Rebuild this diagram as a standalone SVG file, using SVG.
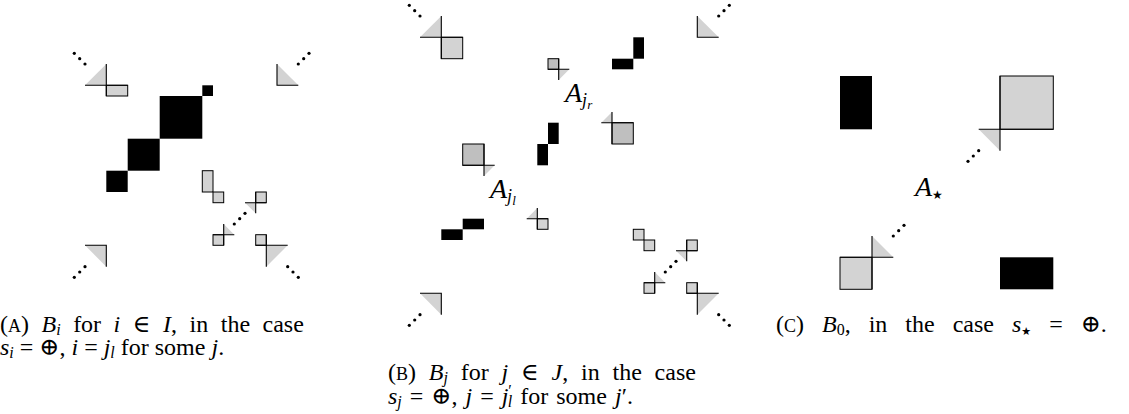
<svg xmlns="http://www.w3.org/2000/svg" width="1129" height="414" viewBox="0 0 1129 414">
<style>
.lg{fill:#d3d3d3;stroke:#000;stroke-width:1}
.dg{fill:#bfbfbf;stroke:#000;stroke-width:1}
.bk{fill:#000;stroke:none}
.tri{fill:#d3d3d3;stroke:none}
.ln{fill:none;stroke:#000;stroke-width:1.1}
.dot{fill:#000}
.cap{font-family:"Liberation Serif","DejaVu Serif",serif;font-size:24px;fill:#000}
.lab{font-family:"Liberation Serif","DejaVu Serif",serif;font-size:28px;fill:#000}
.it{font-style:italic}
.sub{font-style:italic;font-size:16px}
.lsub{font-style:italic;font-size:18px}
.sc{font-size:18px}
</style>
<rect width="1129" height="414" fill="#fff"/>

<g id="panelA">
  <g id="a-tl">
    <polygon class="tri" points="85,85.3 106.3,64 106.3,85.3"/>
    <rect class="lg" x="106.3" y="85.3" width="21.4" height="10.7"/>
    <path class="ln" d="M85,85.3H127.7M106.3,64V96"/>
    <circle class="dot" cx="85" cy="64" r="1.6"/><circle class="dot" cx="79.7" cy="58.7" r="1.6"/><circle class="dot" cx="74.3" cy="53.3" r="1.6"/>
  </g>
  <g id="a-tr">
    <polygon class="tri" points="277,64 277,85.3 298.3,85.3"/>
    <path class="ln" d="M277,64V85.3H298.3"/>
    <circle class="dot" cx="298.3" cy="64" r="1.6"/><circle class="dot" cx="303.7" cy="58.7" r="1.6"/><circle class="dot" cx="309" cy="53.3" r="1.6"/>
  </g>
  <g id="a-black">
    <rect class="bk" x="202.3" y="85.3" width="10.7" height="10.7"/>
    <rect class="bk" x="159.7" y="96" width="42.6" height="42.7"/>
    <rect class="bk" x="127.7" y="138.7" width="32" height="32"/>
    <rect class="bk" x="106.3" y="170.7" width="21.4" height="21.3"/>
  </g>
  <g id="a-gray">
    <rect class="lg" x="202.3" y="170.7" width="10.7" height="21.3"/>
    <rect class="lg" x="213" y="192" width="10.7" height="10.7"/>
  </g>
  <g id="a-cross1">
    <polygon class="tri" points="245,202.7 255.7,202.7 255.7,213.3"/>
    <rect class="lg" x="255.7" y="192" width="10.6" height="10.7"/>
    <path class="ln" d="M245,202.7H266.3M255.7,192V213.3"/>
    <circle class="dot" cx="245" cy="213.3" r="1.6"/><circle class="dot" cx="239.7" cy="218.7" r="1.6"/><circle class="dot" cx="234.3" cy="224" r="1.6"/>
  </g>
  <g id="a-cross2">
    <polygon class="tri" points="223.7,224 223.7,234.7 234.3,234.7"/>
    <rect class="lg" x="213" y="234.7" width="10.7" height="10.6"/>
    <path class="ln" d="M223.7,224V245.3M213,234.7H234.3"/>
  </g>
  <g id="a-br">
    <polygon class="tri" points="266.3,245.3 287.7,245.3 266.3,266.7"/>
    <rect class="lg" x="255.7" y="234.7" width="10.6" height="10.6"/>
    <path class="ln" d="M255.7,245.3H287.7M266.3,234.7V266.7"/>
    <circle class="dot" cx="287.7" cy="266.7" r="1.6"/><circle class="dot" cx="293" cy="272" r="1.6"/><circle class="dot" cx="298.3" cy="277.3" r="1.6"/>
  </g>
  <g id="a-bl">
    <polygon class="tri" points="85,245.3 106.3,245.3 106.3,266.7"/>
    <path class="ln" d="M85,245.3H106.3V266.7"/>
    <circle class="dot" cx="85" cy="266.7" r="1.6"/><circle class="dot" cx="79.7" cy="272" r="1.6"/><circle class="dot" cx="74.3" cy="277.3" r="1.6"/>
  </g>
  <g id="a-caption">
    <text class="cap" x="0" y="332" word-spacing="6.5">(<tspan class="sc">A</tspan>) <tspan class="it">B</tspan><tspan class="sub" dy="3">i</tspan><tspan dy="-3"> for </tspan><tspan class="it">i</tspan> ∈ <tspan class="it">I</tspan>, in the case</text>
    <text class="cap" x="0" y="355"><tspan class="it">s</tspan><tspan class="sub" dy="3">i</tspan><tspan dy="-3"> = ⊕, </tspan><tspan class="it">i</tspan> = <tspan class="it">j</tspan><tspan class="sub" dy="3">l</tspan><tspan dy="-3"> for some </tspan><tspan class="it">j</tspan>.</text>
  </g>
</g>

<g id="panelB">
  <g id="b-tl">
    <polygon class="tri" points="420,37.3 441.3,16 441.3,37.3"/>
    <rect class="lg" x="441.3" y="37.3" width="21.4" height="21.4"/>
    <path class="ln" d="M420,37.3H462.7M441.3,16V58.7"/>
    <circle class="dot" cx="420" cy="16" r="1.6"/><circle class="dot" cx="414.7" cy="10.7" r="1.6"/><circle class="dot" cx="409.3" cy="5.3" r="1.6"/>
  </g>
  <g id="b-tr">
    <polygon class="tri" points="697.3,16 697.3,37.3 718.7,37.3"/>
    <path class="ln" d="M697.3,16V37.3H718.7"/>
    <circle class="dot" cx="718.7" cy="16" r="1.6"/><circle class="dot" cx="724" cy="10.7" r="1.6"/><circle class="dot" cx="729.3" cy="5.3" r="1.6"/>
  </g>
  <g id="b-cross1">
    <polygon class="tri" points="558.7,69.3 569.3,69.3 558.7,80"/>
    <rect class="dg" x="548" y="58.7" width="10.7" height="10.6"/>
    <path class="ln" d="M548,69.3H569.3M558.7,58.7V80"/>
  </g>
  <g id="b-black-r">
    <rect class="bk" x="612" y="58.7" width="21.3" height="10.6"/>
    <rect class="bk" x="633.3" y="37.3" width="10.7" height="21.4"/>
  </g>
  <text class="lab" x="565" y="102"><tspan class="it">A</tspan><tspan class="lsub" dy="4">j</tspan><tspan class="it" font-size="13" dy="3">r</tspan></text>
  <g id="b-cross2">
    <polygon class="tri" points="601.3,122.7 612,112 612,122.7"/>
    <rect class="dg" x="612" y="122.7" width="21.3" height="21.3"/>
    <path class="ln" d="M601.3,122.7H633.3M612,112V144"/>
  </g>
  <g id="b-black-m">
    <rect class="bk" x="548" y="122.7" width="10.7" height="21.3"/>
    <rect class="bk" x="537.3" y="144" width="10.7" height="21.3"/>
  </g>
  <g id="b-cross3">
    <polygon class="tri" points="484,165.3 494.7,165.3 484,176"/>
    <rect class="dg" x="462.7" y="144" width="21.3" height="21.3"/>
    <path class="ln" d="M462.7,165.3H494.7M484,144V176"/>
  </g>
  <text class="lab" x="490" y="197.5"><tspan class="it">A</tspan><tspan class="lsub" dy="4">j</tspan><tspan class="it" font-size="13" dy="3">l</tspan></text>
  <g id="b-cross4">
    <polygon class="tri" points="526.7,218.7 537.3,208 537.3,218.7"/>
    <rect class="lg" x="537.3" y="218.7" width="10.7" height="10.6"/>
    <path class="ln" d="M526.7,218.7H548M537.3,208V229.3"/>
  </g>
  <g id="b-black-l">
    <rect class="bk" x="462.7" y="218.7" width="21.3" height="10.6"/>
    <rect class="bk" x="441.3" y="229.3" width="21.4" height="10.7"/>
  </g>
  <g id="b-gray">
    <rect class="lg" x="633.3" y="229.3" width="10.7" height="10.7"/>
    <rect class="lg" x="644" y="240" width="10.7" height="10.7"/>
  </g>
  <g id="b-cross5">
    <polygon class="tri" points="676,250.7 686.7,250.7 686.7,261.3"/>
    <rect class="lg" x="686.7" y="240" width="10.6" height="10.7"/>
    <path class="ln" d="M676,250.7H697.3M686.7,240V261.3"/>
    <circle class="dot" cx="676" cy="261.3" r="1.6"/><circle class="dot" cx="670.7" cy="266.7" r="1.6"/><circle class="dot" cx="665.3" cy="272" r="1.6"/>
  </g>
  <g id="b-cross6">
    <polygon class="tri" points="654.7,272 654.7,282.7 665.3,282.7"/>
    <rect class="lg" x="644" y="282.7" width="10.7" height="10.6"/>
    <path class="ln" d="M654.7,272V293.3M644,282.7H665.3"/>
  </g>
  <g id="b-br">
    <polygon class="tri" points="697.3,293.3 718.7,293.3 697.3,314.7"/>
    <rect class="lg" x="686.7" y="282.7" width="10.6" height="10.6"/>
    <path class="ln" d="M686.7,293.3H718.7M697.3,282.7V314.7"/>
    <circle class="dot" cx="718.7" cy="314.7" r="1.6"/><circle class="dot" cx="724" cy="320" r="1.6"/><circle class="dot" cx="729.3" cy="325.3" r="1.6"/>
  </g>
  <g id="b-bl">
    <polygon class="tri" points="420,293.3 441.3,293.3 441.3,314.7"/>
    <path class="ln" d="M420,293.3H441.3V314.7"/>
    <circle class="dot" cx="420" cy="314.7" r="1.6"/><circle class="dot" cx="414.7" cy="320" r="1.6"/><circle class="dot" cx="409.3" cy="325.3" r="1.6"/>
  </g>
  <g id="b-caption">
    <text class="cap" x="388" y="380" word-spacing="6.8">(<tspan class="sc">B</tspan>) <tspan class="it">B</tspan><tspan class="sub" dy="3">j</tspan><tspan dy="-3"> for </tspan><tspan class="it">j</tspan> ∈ <tspan class="it">J</tspan>, in the case</text>
    <text class="cap" x="388" y="404" word-spacing="2"><tspan class="it">s</tspan><tspan class="sub" dy="3">j</tspan><tspan dy="-3"> = ⊕, </tspan><tspan class="it">j</tspan> = <tspan class="it">j</tspan><tspan font-size="16" dy="-8">′</tspan><tspan class="sub" dx="-4" dy="11">l</tspan><tspan dy="-3"> for some </tspan><tspan class="it">j</tspan>′.</text>
  </g>
</g>

<g id="panelC">
  <rect class="bk" x="840" y="76" width="32" height="53.3"/>
  <g id="c-top">
    <polygon class="tri" points="978.7,129.3 1000,129.3 1000,150.7"/>
    <rect class="lg" x="1000" y="76" width="53.3" height="53.3"/>
    <path class="ln" d="M978.7,129.3H1053.3M1000,76V150.7"/>
    <circle class="dot" cx="978.7" cy="150.7" r="1.6"/><circle class="dot" cx="973.3" cy="156" r="1.6"/><circle class="dot" cx="968" cy="161.3" r="1.6"/>
  </g>
  <text class="lab" x="915" y="196"><tspan class="it">A</tspan><tspan font-family="DejaVu Sans, sans-serif" font-size="12" dy="3">★</tspan></text>
  <g id="c-bottom">
    <polygon class="tri" points="872,236 872,257.3 893.3,257.3"/>
    <rect class="lg" x="840" y="257.3" width="32" height="32"/>
    <path class="ln" d="M872,236V289.3M840,257.3H893.3"/>
    <circle class="dot" cx="893.3" cy="236" r="1.6"/><circle class="dot" cx="898.7" cy="230.7" r="1.6"/><circle class="dot" cx="904" cy="225.3" r="1.6"/>
  </g>
  <rect class="bk" x="1000" y="257.3" width="53.3" height="32"/>
  <g id="c-caption">
    <text class="cap" x="776" y="332" word-spacing="12">(<tspan class="sc">C</tspan>) <tspan class="it">B</tspan><tspan font-size="16" dy="3">0</tspan><tspan dy="-3">, in the case </tspan><tspan class="it">s</tspan><tspan font-family="DejaVu Sans, sans-serif" font-size="11" dy="3">★</tspan><tspan dy="-3"> = ⊕.</tspan></text>
  </g>
</g>
</svg>
